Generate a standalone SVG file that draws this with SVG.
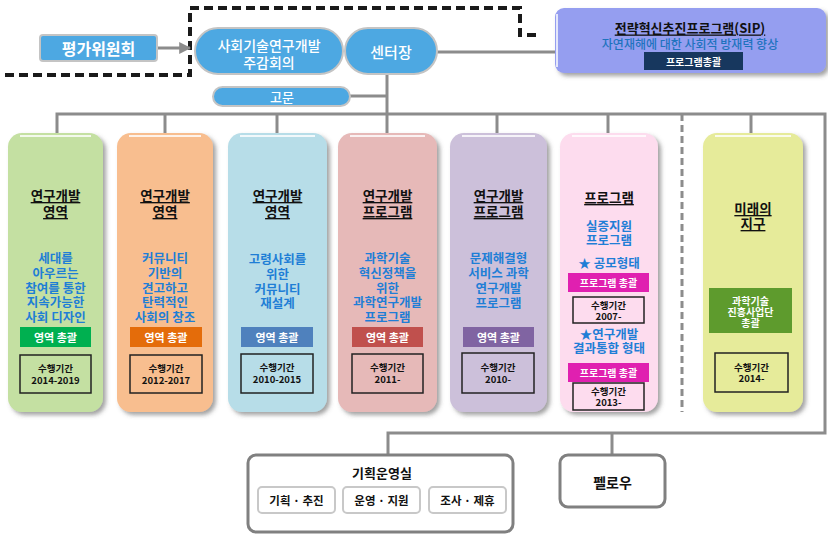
<svg xmlns="http://www.w3.org/2000/svg" width="828" height="534" viewBox="0 0 828 534">
<defs>
<filter id="sh" x="-10%" y="-10%" width="130%" height="130%">
<feDropShadow dx="3" dy="3" stdDeviation="2" flood-color="#555" flood-opacity="0.55"/>
</filter>
<marker id="arr" viewBox="0 0 10 10" refX="9" refY="5" markerWidth="4" markerHeight="4" orient="auto">
<path d="M0,0 L10,5 L0,10 z" fill="#8c8c8c"/>
</marker>
<style>
text{font-family:"Noto Sans CJK KR","Liberation Sans",sans-serif;text-anchor:middle;dominant-baseline:central;font-weight:700}
.ln{stroke:#8c8c8c;stroke-width:3;fill:none}
.dash{stroke:#1a1a1a;stroke-width:4;fill:none;stroke-dasharray:9 5}
.pill{fill:#4da8e2;stroke:#c4c4c4;stroke-width:2}
.pt{fill:#fff;font-size:14px;font-weight:500}
.col{filter:url(#sh)}
.ttl{font-size:13.5px;fill:#111;text-decoration:underline}
.body{font-size:12.5px;fill:#1f7ed6}
.bt{font-size:11px;fill:#fff}
.per{fill:none;stroke:#222;stroke-width:1.5}
.pt2{font-size:9.5px;fill:#111}
.hl{stroke:#fff;stroke-width:2;opacity:0.8;fill:none}
.ob{fill:#fff;stroke:#808080;stroke-width:3}
.ib{fill:#fff;stroke:#c8c8c8;stroke-width:2}
</style>
</defs>

<g id="connectors">
<path class="dash" d="M5,75 H190 V8 H520 V35 H540"/>
<line class="ln" x1="157" y1="48" x2="190" y2="48" marker-end="url(#arr)"/>
<line class="ln" x1="437" y1="52" x2="556" y2="52"/>
<line class="ln" x1="387" y1="74" x2="387" y2="114"/>
<line class="ln" x1="350" y1="96" x2="387" y2="96"/>
<path class="ln" d="M57,133 V114 H825 V433 H388 V455"/>
<line class="ln" x1="165" y1="114" x2="165" y2="133"/>
<line class="ln" x1="277" y1="114" x2="277" y2="133"/>
<line class="ln" x1="387" y1="114" x2="387" y2="133"/>
<line class="ln" x1="497" y1="114" x2="497" y2="133"/>
<line class="ln" x1="608" y1="114" x2="608" y2="133"/>
<line class="ln" x1="751" y1="114" x2="751" y2="133"/>
<line x1="682" y1="114" x2="682" y2="412" stroke="#8c8c8c" stroke-width="3" stroke-dasharray="7 4"/>
<line class="ln" x1="612" y1="433" x2="612" y2="455"/>
</g>

<g id="eval">
<rect x="40" y="35" width="117" height="26" rx="3" fill="#4da8e2" stroke="#c4c4c4" stroke-width="2"/>
<text x="98.5" y="48" style="font-size:16px;fill:#fff">평가위원회</text>
</g>

<g id="meeting">
<rect class="pill" x="195" y="28" width="148" height="46" rx="23"/>
<text class="pt" x="269" y="45">사회기술연구개발<tspan x="269" dy="17">주감회의</tspan></text>
</g>

<g id="director">
<rect class="pill" x="345" y="28" width="92" height="46" rx="23"/>
<text class="pt" x="391" y="51" style="font-size:15px">센터장</text>
</g>

<g id="advisor">
<rect class="pill" x="213" y="87" width="137" height="19" rx="9.5"/>
<text class="pt" x="282" y="96.5" style="font-size:13px">고문</text>
</g>

<g id="sip">
<rect x="555" y="8" width="271" height="65" rx="9" fill="#959ef0" filter="url(#sh)"/>
<line x1="557" y1="14" x2="557" y2="67" stroke="#fff" stroke-width="1.5"/>
<text x="690" y="27" style="font-size:13px;fill:#111;text-decoration:underline">전략혁신추진프로그램(SIP)</text>
<text x="690" y="43" style="font-size:12px;fill:#1e73be;font-weight:500">자연재해에 대한 사회적 방재력 향상</text>
<rect x="644" y="52" width="99" height="18" fill="#17375e"/>
<text x="693.5" y="61" style="font-size:10px;fill:#fff">프로그램총괄</text>
</g>

<g id="col1">
<rect class="col" x="8" y="133" width="95" height="279" rx="14" fill="#c4e0a2"/>
<line class="hl" x1="20" y1="136" x2="91" y2="136"/>
<text class="ttl" x="55.5" y="195">연구개발<tspan x="55.5" dy="16">영역</tspan></text>
<text class="body" x="55.5" y="257">세대를<tspan x="55.5" dy="15">아우르는</tspan><tspan x="55.5" dy="14.5">참여를 통한</tspan><tspan x="55.5" dy="14.5">지속가능한</tspan><tspan x="55.5" dy="15">사회 디자인</tspan></text>
<rect x="20" y="327" width="71" height="20" fill="#00b050"/>
<text class="bt" x="55.5" y="337">영역 총괄</text>
<rect class="per" x="20" y="355" width="71" height="38"/>
<text class="pt2" x="55.5" y="368">수행기간<tspan x="55.5" dy="12">2014-2019</tspan></text>
</g>

<g id="col2">
<rect class="col" x="117" y="133" width="96" height="279" rx="14" fill="#f8be8f"/>
<line class="hl" x1="129" y1="136" x2="201" y2="136"/>
<text class="ttl" x="165" y="195">연구개발<tspan x="165" dy="16">영역</tspan></text>
<text class="body" x="165" y="257">커뮤니티<tspan x="165" dy="15">기반의</tspan><tspan x="165" dy="14.5">견고하고</tspan><tspan x="165" dy="14.5">탄력적인</tspan><tspan x="165" dy="15">사회의 창조</tspan></text>
<rect x="130" y="327" width="72" height="20" fill="#e46c0a"/>
<text class="bt" x="166" y="337">영역 총괄</text>
<rect class="per" x="130" y="355" width="72" height="38"/>
<text class="pt2" x="166" y="368">수행기간<tspan x="166" dy="12">2012-2017</tspan></text>
</g>

<g id="col3">
<rect class="col" x="228" y="133" width="99" height="279" rx="14" fill="#b7dde8"/>
<line class="hl" x1="240" y1="136" x2="315" y2="136"/>
<text class="ttl" x="277.5" y="195">연구개발<tspan x="277.5" dy="16">영역</tspan></text>
<text class="body" x="277.5" y="258">고령사회를<tspan x="277.5" dy="15">위한</tspan><tspan x="277.5" dy="15">커뮤니티</tspan><tspan x="277.5" dy="14">재설계</tspan></text>
<rect x="241" y="327" width="72" height="20" fill="#4f81bd"/>
<text class="bt" x="277" y="337">영역 총괄</text>
<rect class="per" x="241" y="354" width="72" height="39"/>
<text class="pt2" x="277" y="367">수행기간<tspan x="277" dy="12">2010-2015</tspan></text>
</g>

<g id="col4">
<rect class="col" x="338" y="133" width="99" height="279" rx="14" fill="#e6b9b8"/>
<line class="hl" x1="350" y1="136" x2="425" y2="136"/>
<text class="ttl" x="387.5" y="195">연구개발<tspan x="387.5" dy="16">프로그램</tspan></text>
<text class="body" x="387.5" y="257">과학기술<tspan x="387.5" dy="15">혁신정책을</tspan><tspan x="387.5" dy="14.5">위한</tspan><tspan x="387.5" dy="14.5">과학연구개발</tspan><tspan x="387.5" dy="15">프로그램</tspan></text>
<rect x="352" y="327" width="71" height="20" fill="#c0504d"/>
<text class="bt" x="387.5" y="337">영역 총괄</text>
<rect class="per" x="352" y="354" width="71" height="39"/>
<text class="pt2" x="387.5" y="367">수행기간<tspan x="387.5" dy="12">2011-</tspan></text>
</g>

<g id="col5">
<rect class="col" x="450" y="133" width="97" height="279" rx="14" fill="#ccc0da"/>
<line class="hl" x1="462" y1="136" x2="535" y2="136"/>
<text class="ttl" x="498.5" y="195">연구개발<tspan x="498.5" dy="16">프로그램</tspan></text>
<text class="body" x="498.5" y="257">문제해결형<tspan x="498.5" dy="15">서비스 과학</tspan><tspan x="498.5" dy="15">연구개발</tspan><tspan x="498.5" dy="15">프로그램</tspan></text>
<rect x="463" y="327" width="71" height="20" fill="#8064a2"/>
<text class="bt" x="498.5" y="337">영역 총괄</text>
<rect class="per" x="462" y="353" width="72" height="40"/>
<text class="pt2" x="498" y="367">수행기간<tspan x="498" dy="12">2010-</tspan></text>
</g>

<g id="col6">
<rect class="col" x="560" y="133" width="98" height="279" rx="14" fill="#fddcee"/>
<line class="hl" x1="572" y1="136" x2="646" y2="136"/>
<text class="ttl" x="609" y="197">프로그램</text>
<text class="body" x="609" y="225">실증지원<tspan x="609" dy="14">프로그램</tspan><tspan x="609" dy="23">★ 공모형태</tspan></text>
<rect x="568" y="273" width="81" height="19" fill="#e020b0"/>
<text class="bt" x="608.5" y="282.5" style="font-size:10px">프로그램 총괄</text>
<rect class="per" x="573" y="297" width="71" height="26"/>
<text class="pt2" x="608.5" y="305">수행기간<tspan x="608.5" dy="11">2007-</tspan></text>
<text class="body" x="609" y="333">★연구개발<tspan x="609" dy="14">결과통합 형태</tspan></text>
<rect x="568" y="363" width="81" height="19" fill="#e020b0"/>
<text class="bt" x="608.5" y="372.5" style="font-size:10px">프로그램 총괄</text>
<rect class="per" x="573" y="383" width="71" height="27"/>
<text class="pt2" x="608.5" y="391">수행기간<tspan x="608.5" dy="11">2013-</tspan></text>
</g>

<g id="col7">
<rect class="col" x="703" y="133" width="100" height="279" rx="14" fill="#e6eb9a"/>
<line class="hl" x1="715" y1="136" x2="791" y2="136"/>
<text class="ttl" x="753" y="208">미래의<tspan x="753" dy="15">지구</tspan></text>
<rect x="709" y="288" width="83" height="45" fill="#5e9b2d"/>
<text class="bt" x="750.5" y="300" style="font-size:10px">과학기술<tspan x="750.5" dy="11">진흥사업단</tspan><tspan x="750.5" dy="11">총괄</tspan></text>
<rect class="per" x="715" y="353" width="73" height="39"/>
<text class="pt2" x="751.5" y="367">수행기간<tspan x="751.5" dy="11">2014-</tspan></text>
</g>

<g id="planning">
<rect class="ob" x="248" y="455" width="265" height="77" rx="8"/>
<text x="382" y="472" style="font-size:13px;fill:#111">기획운영실</text>
<rect class="ib" x="258" y="487" width="77" height="26" rx="4"/>
<text x="296.5" y="500" style="font-size:11.5px;fill:#111">기획 · 추진</text>
<rect class="ib" x="343" y="487" width="77" height="26" rx="4"/>
<text x="381.5" y="500" style="font-size:11.5px;fill:#111">운영 · 지원</text>
<rect class="ib" x="429" y="487" width="77" height="26" rx="4"/>
<text x="467.5" y="500" style="font-size:11.5px;fill:#111">조사 · 제휴</text>
</g>

<g id="fellow">
<rect class="ob" x="560" y="455" width="105" height="52" rx="8"/>
<text x="612.5" y="482" style="font-size:14px;fill:#111">펠로우</text>
</g>
</svg>
